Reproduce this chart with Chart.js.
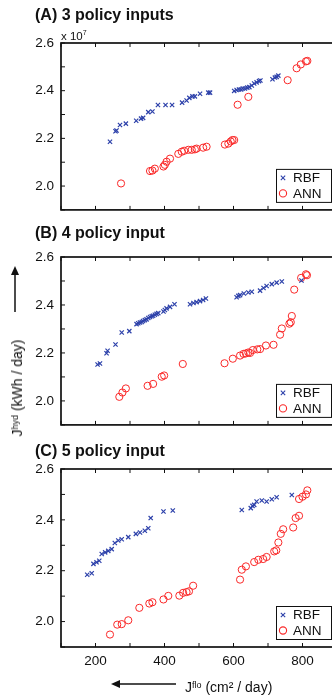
<!DOCTYPE html>
<html><head><meta charset="utf-8">
<script src="https://cdn.jsdelivr.net/npm/chart.js@4.4.1/dist/chart.umd.min.js"></script>
<style>
html,body{margin:0;padding:0;background:#fff;overflow:hidden;width:332px;height:697px;}
body{position:relative;font-family:"Liberation Sans",Arial,Helvetica,sans-serif;color:#111;}
canvas.cv{position:absolute;left:0;}
.ttl{position:absolute;left:35px;font-weight:bold;font-size:16px;line-height:16px;white-space:nowrap;}
.exp{position:absolute;left:61px;top:27px;font-size:11.5px;line-height:12px;white-space:nowrap;}
.exp sup{font-size:7px;vertical-align:5px;}
.ytitle{position:absolute;left:16px;top:388px;font-size:14px;line-height:14px;white-space:nowrap;transform:translate(-50%,-50%) rotate(-90deg);}
.xtitle{position:absolute;left:185px;top:678px;font-size:14px;line-height:14px;white-space:nowrap;}
.ytitle sup,.xtitle sup{font-size:9px;vertical-align:4px;}
svg{position:absolute;left:0;top:0;}
</style></head>
<body>
<canvas id="cA" class="cv" width="345" height="225" style="top:0px"></canvas>
<canvas id="cB" class="cv" width="345" height="215" style="top:225px"></canvas>
<canvas id="cC" class="cv" width="345" height="257" style="top:440px"></canvas>
<div class="ttl" style="top:7px">(A) 3 policy inputs</div>
<div class="ttl" style="top:225px">(B) 4 policy input</div>
<div class="ttl" style="top:443px">(C) 5 policy input</div>
<div class="exp">x 10<sup>7</sup></div>
<div class="ytitle">J<sup>hyd</sup> (kWh / day)</div>
<div class="xtitle">J<sup>flo</sup> (cm² / day)</div>
<svg width="332" height="697">
  <line x1="15" y1="312" x2="15" y2="272" stroke="#111" stroke-width="1.5"/>
  <polygon points="15,266 11,275 19,275" fill="#111"/>
  <line x1="176" y1="684" x2="118" y2="684" stroke="#111" stroke-width="1.5"/>
  <polygon points="111,684 120,680 120,688" fill="#111"/>
</svg>
<script>
// Tick labels
const xTickLabels = [200, 400, 600, 800];
const yTickLabels = [2.0, 2.2, 2.4, 2.6]; // x 10^7 kWh/day

// Panel A: 3 policy inputs  [Jflo, Jhyd (x10^7)]
const rbfA = [[242,2.186],[258,2.230],[261,2.233],[271,2.256],[288,2.262],[318,2.274],[332,2.283],[338,2.286],[353,2.310],[365,2.313],[381,2.340],[403,2.340],[422,2.340],[451,2.350],[464,2.359],[472,2.370],[481,2.376],[488,2.376],[503,2.387],[527,2.392],[532,2.392],[602,2.399],[609,2.403],[616,2.405],[622,2.405],[627,2.409],[633,2.409],[640,2.413],[646,2.415],[653,2.422],[660,2.430],[667,2.435],[674,2.440],[678,2.443],[713,2.448],[720,2.455],[725,2.458],[730,2.463]];
const annA = [[274,2.011],[358,2.063],[365,2.065],[372,2.073],[397,2.082],[401,2.089],[406,2.102],[416,2.115],[440,2.135],[450,2.144],[457,2.148],[469,2.152],[479,2.152],[488,2.154],[493,2.157],[512,2.161],[522,2.165],[575,2.174],[585,2.178],[592,2.187],[597,2.193],[602,2.193],[612,2.341],[643,2.374],[757,2.444],[783,2.494],[795,2.510],[810,2.523],[814,2.525]];

// Panel B: 4 policy input
const rbfB = [[206,2.152],[213,2.156],[232,2.199],[235,2.209],[258,2.235],[276,2.285],[298,2.291],[319,2.320],[324,2.324],[329,2.327],[334,2.329],[338,2.333],[343,2.337],[348,2.340],[353,2.346],[358,2.350],[363,2.353],[367,2.355],[372,2.359],[377,2.363],[382,2.366],[397,2.373],[401,2.379],[406,2.386],[416,2.392],[429,2.403],[474,2.403],[484,2.408],[493,2.412],[503,2.416],[512,2.421],[520,2.427],[609,2.432],[614,2.438],[619,2.441],[630,2.448],[643,2.452],[653,2.455],[677,2.460],[687,2.471],[696,2.479],[711,2.487],[725,2.493],[740,2.498],[797,2.502]];
const annB = [[269,2.017],[278,2.035],[288,2.052],[351,2.063],[367,2.071],[392,2.101],[399,2.106],[453,2.154],[574,2.157],[598,2.176],[619,2.189],[629,2.196],[636,2.198],[643,2.202],[648,2.200],[656,2.212],[669,2.215],[677,2.216],[694,2.231],[716,2.234],[735,2.276],[740,2.302],[762,2.322],[766,2.328],[769,2.354],[776,2.464],[796,2.513],[810,2.528],[813,2.524]];

// Panel C: 5 policy input
const rbfC = [[176,2.184],[189,2.190],[194,2.227],[203,2.233],[211,2.239],[218,2.266],[228,2.272],[237,2.278],[247,2.285],[256,2.309],[266,2.319],[276,2.324],[295,2.332],[317,2.345],[329,2.350],[343,2.357],[353,2.367],[360,2.407],[397,2.433],[424,2.437],[624,2.439],[650,2.446],[655,2.455],[660,2.459],[667,2.472],[682,2.476],[696,2.472],[711,2.481],[725,2.489],[769,2.498]];
const annC = [[242,1.949],[263,1.988],[276,1.990],[295,2.005],[327,2.054],[356,2.071],[365,2.076],[397,2.087],[411,2.101],[443,2.102],[454,2.113],[464,2.116],[471,2.119],[483,2.141],[619,2.165],[624,2.204],[636,2.217],[660,2.234],[672,2.243],[686,2.246],[696,2.254],[718,2.276],[724,2.280],[730,2.311],[737,2.345],[744,2.363],[773,2.370],[780,2.407],[790,2.416],[790,2.482],[800,2.491],[810,2.500],[814,2.516]];

const BLUE = 'rgb(45,65,170)';
const RED = 'rgb(250,40,40)';
const FONT = '"Liberation Sans", Arial, Helvetica, sans-serif';

const framePlugin = {
  id: 'frame',
  afterDraw(chart) {
    const {ctx, chartArea: a, scales: {x, y}} = chart;
    ctx.save();
    ctx.strokeStyle = '#111';
    ctx.lineWidth = 1;
    const L = 4;
    ctx.beginPath();
    x.ticks.forEach(t => {
      const px = x.getPixelForValue(t.value);
      ctx.moveTo(px, a.bottom); ctx.lineTo(px, a.bottom - L);
      ctx.moveTo(px, a.top); ctx.lineTo(px, a.top + L);
    });
    y.ticks.forEach(t => {
      const py = y.getPixelForValue(t.value);
      ctx.moveTo(a.left, py); ctx.lineTo(a.left + L, py);
      ctx.moveTo(a.right, py); ctx.lineTo(a.right - L, py);
    });
    ctx.stroke();
    ctx.lineWidth = 1.7;
    ctx.strokeRect(a.left, a.top, a.right - a.left, a.bottom - a.top);
    ctx.restore();
  }
};

const legendPlugin = {
  id: 'boxLegend',
  afterDraw(chart) {
    const {ctx, chartArea: a} = chart;
    const bx = 276, bw = 55, bh = 33, by = a.bottom - 8 - bh;
    ctx.save();
    ctx.fillStyle = '#fff';
    ctx.fillRect(bx, by, bw, bh);
    ctx.strokeStyle = '#111';
    ctx.lineWidth = 1;
    ctx.strokeRect(bx + 0.5, by + 0.5, bw, bh);
    const ds = chart.data.datasets;
    ctx.font = '13.5px ' + FONT;
    ctx.textBaseline = 'middle';
    ctx.fillStyle = '#111';
    ds.forEach((d, i) => {
      const cy = by + 9 + i * 15.5;
      const mx = bx + 7;
      ctx.strokeStyle = d.borderColor;
      ctx.lineWidth = 1.1;
      ctx.beginPath();
      if (d.pointStyle === 'crossRot') {
        const r = 2.2;
        ctx.moveTo(mx - r, cy - r); ctx.lineTo(mx + r, cy + r);
        ctx.moveTo(mx - r, cy + r); ctx.lineTo(mx + r, cy - r);
      } else {
        ctx.arc(mx, cy, 3.6, 0, Math.PI * 2);
      }
      ctx.stroke();
      ctx.fillStyle = '#111';
      ctx.fillText(d.label, bx + 17, cy + 0.5);
    });
    ctx.restore();
  }
};

function makePanel(id, rbf, ann, showX, padTop, padBottom) {
  new Chart(document.getElementById(id), {
    type: 'scatter',
    data: {
      datasets: [
        {label: 'RBF', data: rbf.map(p => ({x: p[0], y: p[1]})), pointStyle: 'crossRot',
         pointRadius: 3, borderColor: BLUE, backgroundColor: BLUE, borderWidth: 1.2},
        {label: 'ANN', data: ann.map(p => ({x: p[0], y: p[1]})), pointStyle: 'circle',
         pointRadius: 3.6, borderColor: RED, backgroundColor: 'rgba(0,0,0,0)', borderWidth: 1}
      ]
    },
    options: {
      responsive: false, animation: false, events: [],
      layout: {padding: {top: padTop, bottom: padBottom, left: 0, right: 8}},
      plugins: {legend: {display: false}, tooltip: {enabled: false}},
      scales: {
        x: {
          type: 'linear', min: 100, max: 900,
          grid: {display: false, drawTicks: false}, border: {display: false},
          ticks: {display: showX, stepSize: 100, autoSkip: false, maxRotation: 0, padding: 6,
                  color: '#111', font: {family: FONT, size: 13.5},
                  callback: v => xTickLabels.includes(Math.round(v)) ? String(Math.round(v)) : ''},
          afterFit: s => { s.height = showX ? 24 : 0; }
        },
        y: {
          type: 'linear', min: 1.9, max: 2.6,
          grid: {display: false, drawTicks: false}, border: {display: false},
          ticks: {stepSize: 0.1, autoSkip: false, padding: 7, color: '#111', font: {family: FONT, size: 13.5},
                  callback: v => { const r = Math.round(v * 10) / 10; return yTickLabels.includes(r) ? r.toFixed(1) : ''; }},
          afterFit: s => { s.width = 61; }
        }
      }
    },
    plugins: [framePlugin, legendPlugin]
  });
}

makePanel('cA', rbfA, annA, false, 43, 5);
makePanel('cB', rbfB, annB, false, 32, 7);
makePanel('cC', rbfC, annC, true, 29, 26);
</script>
</body></html>
